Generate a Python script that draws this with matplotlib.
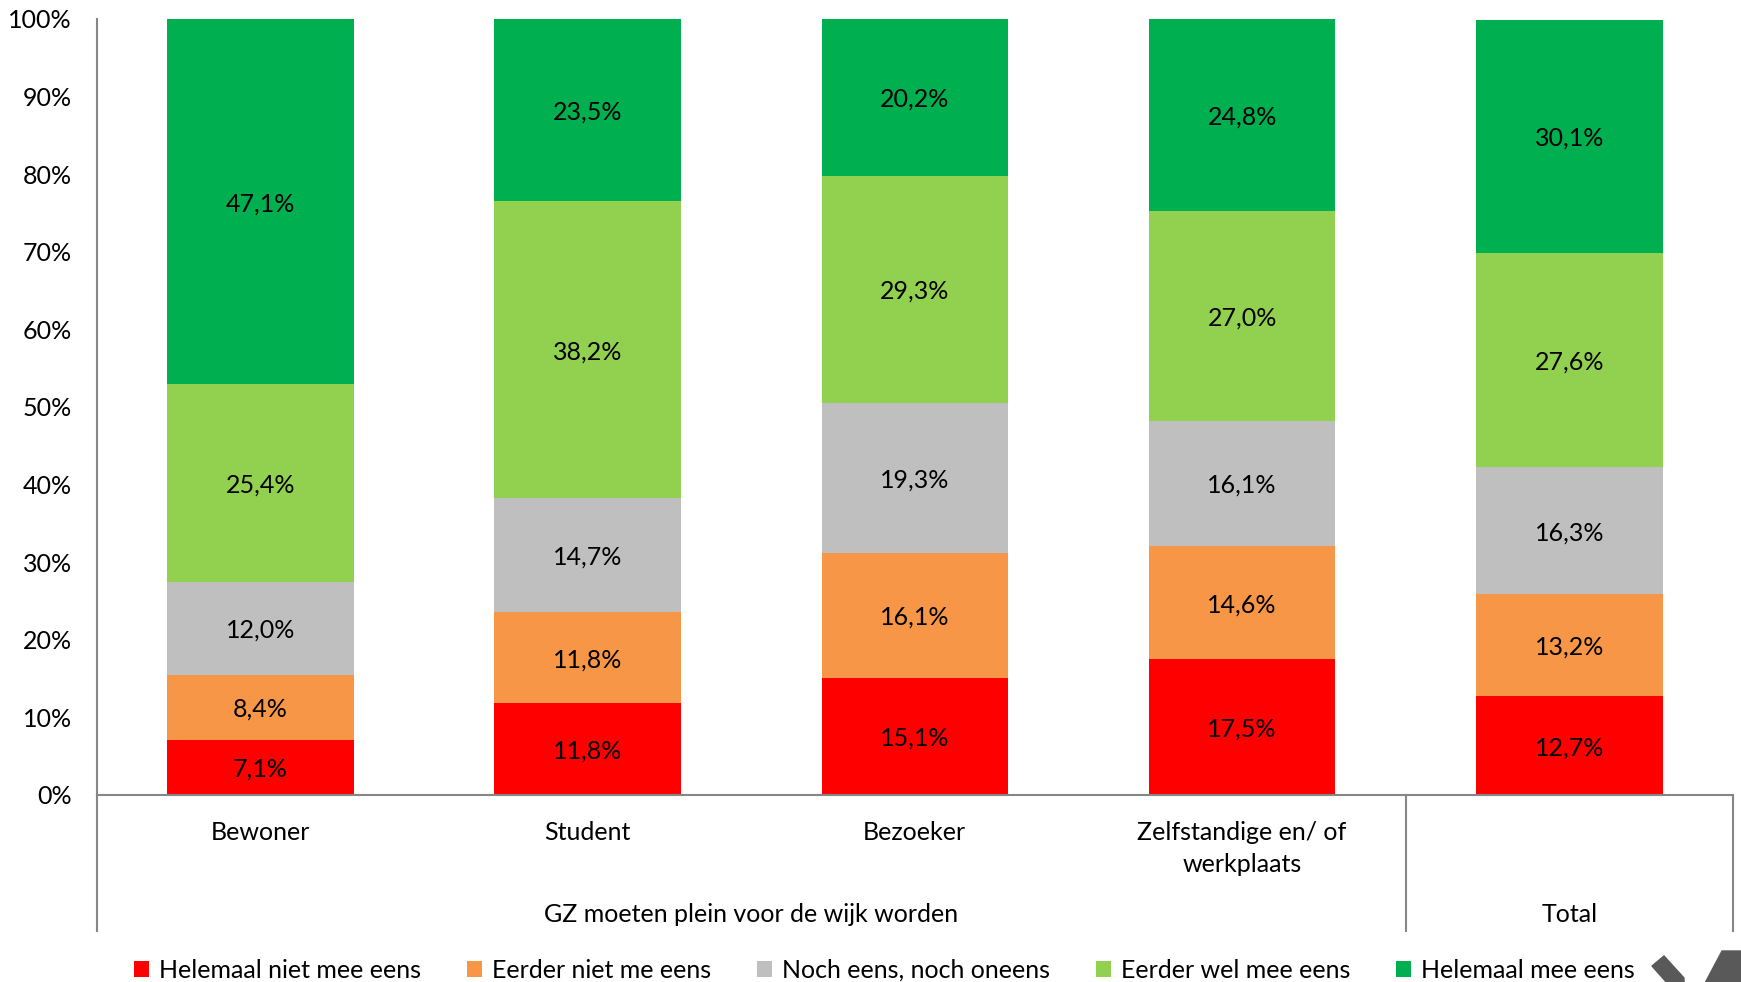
import matplotlib
matplotlib.use("Agg")
import matplotlib.pyplot as plt
from matplotlib.patches import Polygon
import numpy as np

plt.rcParams['font.family'] = ['Lato', 'DejaVu Sans']

categories = ["Bewoner", "Student", "Bezoeker", "Zelfstandige en/ of\nwerkplaats", "Total"]
series_names = ["Helemaal niet mee eens", "Eerder niet me eens", "Noch eens, noch oneens",
                "Eerder wel mee eens", "Helemaal mee eens"]
helemaal_niet = [7.1, 11.8, 15.1, 17.5, 12.7]
eerder_niet = [8.4, 11.8, 16.1, 14.6, 13.2]
noch = [12.0, 14.7, 19.3, 16.1, 16.3]
eerder_wel = [25.4, 38.2, 29.3, 27.0, 27.6]
helemaal = [47.1, 23.5, 20.2, 24.8, 30.1]
group_label = "GZ moeten plein voor de wijk worden"
total_label = "Total"
colors = ["#FF0000", "#F79646", "#BFBFBF", "#92D050", "#00B050"]

FS = 18
W, H = 1741, 982
fig = plt.figure(figsize=(W / 100, H / 100), dpi=100)
ax_left, ax_right, ax_top, ax_bot = 96.6, 1733, 18.9, 795
ax = fig.add_axes([ax_left / W, 1 - ax_bot / H, (ax_right - ax_left) / W, (ax_bot - ax_top) / H])

series = [helemaal_niet, eerder_niet, noch, eerder_wel, helemaal]
x = np.arange(len(categories))
bottom = np.zeros(len(categories))
for vals, name, c in zip(series, series_names, colors):
    vals = np.array(vals)
    ax.bar(x, vals, 0.57, bottom=bottom, color=c, label=name, zorder=2)
    for xi, b, v in zip(x, bottom, vals):
        ax.annotate(f"{v:.1f}%".replace(".", ","), (xi, b + v / 2), xytext=(0, -1.5),
                    textcoords='offset points', ha='center', va='center',
                    fontsize=FS, color='black')
    bottom = bottom + vals

ax.set_xlim(-0.5, 4.5)
ax.set_ylim(0, 100)
ax.set_yticks(np.arange(0, 101, 10))
ax.set_yticklabels([f"{v}%" for v in range(0, 101, 10)], fontsize=FS)
ax.tick_params(axis='y', length=0, pad=18)
ax.set_xticks([])
for s in ['top', 'right']:
    ax.spines[s].set_visible(False)
for s in ['left', 'bottom']:
    ax.spines[s].set_color('#868686')
    ax.spines[s].set_linewidth(1.5)

axh = ax_bot - ax_top
trans = ax.get_xaxis_transform()
sep_depth = 135.5 / axh
for xs in [-0.5, 3.5, 4.5]:
    ax.plot([xs, xs], [0, -sep_depth], transform=trans, color='#868686', lw=1.5, clip_on=False)

# category labels
for i, cat in enumerate(categories[:4]):
    lines = cat.split("\n")
    for j, ln in enumerate(lines):
        ax.text(i, -(38 + 31 * j) / axh, ln, transform=trans, ha='center', va='center', fontsize=FS)
ax.text(1.5, -120 / axh, group_label, transform=trans, ha='center', va='center', fontsize=FS)
ax.text(4, -120 / axh, total_label, transform=trans, ha='center', va='center', fontsize=FS)

handles, labels = ax.get_legend_handles_labels()
fig.legend(handles, labels, loc='center', bbox_to_anchor=(0.508, 1 - 970 / H), ncol=5,
           frameon=False, fontsize=FS, handlelength=0.6, handleheight=0.6, handletextpad=0.4,
           columnspacing=1.84)

# logo fragment bottom-right
logo1 = Polygon([[1652 / W, 1 - 966 / H], [1664 / W, 1 - 956 / H], [1684 / W, 1 - 978 / H],
                 [1684 / W, 1 - 982 / H], [1668 / W, 1 - 984 / H]], closed=True,
                transform=fig.transFigure, color='#595959')
logo2 = Polygon([[1704 / W, 1 - 985 / H], [1722 / W, 1 - 951 / H], [1745 / W, 1 - 951 / H],
                 [1745 / W, 1 - 985 / H]], closed=True, transform=fig.transFigure, color='#595959')
fig.patches.extend([logo1, logo2])

fig.savefig("out.png", dpi=100)
